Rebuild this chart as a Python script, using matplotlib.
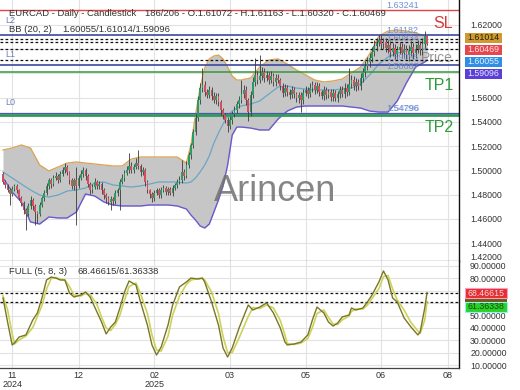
import numpy as np
import matplotlib
matplotlib.use('Agg')
import matplotlib.pyplot as plt
from matplotlib.patches import Rectangle

plt.rcParams['font.family'] = ['Liberation Sans', 'DejaVu Sans']

# ---------------- data ----------------
first_open = 1.4971
closes = [
    1.4905, 1.4880, 1.4839, 1.4806, 1.4847, 1.4872, 1.4839, 1.4773, 1.4731, 1.4674,
    1.4641, 1.4707, 1.4756, 1.4707, 1.4657, 1.4641, 1.4715, 1.4773, 1.4814, 1.4872,
    1.4921, 1.4888, 1.4938, 1.4954, 1.4921, 1.4971, 1.5004, 1.5028, 1.4987, 1.4921,
    1.4872, 1.4921, 1.4872, 1.4938, 1.4971, 1.5004, 1.4954, 1.4888, 1.4839, 1.4863,
    1.4905, 1.4872, 1.4888, 1.4839, 1.4797, 1.4773, 1.4740, 1.4764, 1.4748, 1.4814,
    1.4839, 1.4905, 1.4938, 1.4979, 1.5004, 1.5037, 1.5004, 1.5028, 1.5061, 1.5037,
    1.4987, 1.5004, 1.4905, 1.4839, 1.4806, 1.4773, 1.4814, 1.4839, 1.4797, 1.4839,
    1.4855, 1.4822, 1.4847, 1.4814, 1.4855, 1.4880, 1.4905, 1.4921, 1.4987, 1.4954,
    1.5045, 1.5127, 1.5210, 1.5317, 1.5433, 1.5581, 1.5680, 1.5705, 1.5647, 1.5622,
    1.5664, 1.5614, 1.5581, 1.5614, 1.5565, 1.5499, 1.5457, 1.5416, 1.5367, 1.5416,
    1.5466, 1.5499, 1.5548, 1.5581, 1.5631, 1.5664, 1.5581, 1.5482, 1.5622, 1.5730,
    1.5788, 1.5746, 1.5779, 1.5812, 1.5763, 1.5788, 1.5746, 1.5779, 1.5730, 1.5763,
    1.5746, 1.5697, 1.5639, 1.5680, 1.5647, 1.5622, 1.5664, 1.5631, 1.5598, 1.5622,
    1.5581, 1.5639, 1.5664, 1.5631, 1.5680, 1.5705, 1.5664, 1.5697, 1.5647, 1.5614,
    1.5664, 1.5622, 1.5647, 1.5606, 1.5639, 1.5598, 1.5631, 1.5664, 1.5631, 1.5680,
    1.5647, 1.5713, 1.5746, 1.5697, 1.5730, 1.5697, 1.5763, 1.5812, 1.5862, 1.5895,
    1.5928, 1.5977, 1.6027, 1.6060, 1.6076, 1.6043, 1.6060, 1.6010, 1.6035, 1.5977,
    1.6010, 1.5961, 1.5994, 1.6018, 1.5969, 1.6002, 1.5952, 1.5986, 1.6018, 1.5969,
    1.6002, 1.6035, 1.5994, 1.6043, 1.61072, 1.60469,
]
# wick extents beyond the body, in pips
wick_up = [
    15, 20, 12, 18, 25, 14, 20, 12, 18, 15,
    20, 25, 30, 15, 18, 12, 25, 20, 22, 28,
    20, 15, 25, 30, 18, 22, 28, 35, 15, 12,
    18, 20, 107, 25, 30, 22, 15, 18, 20, 25,
    30, 18, 22, 15, 20, 18, 15, 22, 18, 25,
    20, 28, 30, 25, 35, 107, 30, 25, 40, 108,
    20, 25, 15, 18, 12, 15, 22, 20, 18, 25,
    22, 15, 20, 18, 25, 20, 28, 30, 99, 25,
    30, 25, 20, 28, 35, 30, 40, 140, 30, 25,
    35, 25, 30, 28, 22, 18, 20, 15, 25, 30,
    25, 30, 28, 35, 115, 40, 30, 20, 35, 45,
    140, 30, 173, 40, 30, 35, 28, 40, 25, 30,
    35, 20, 25, 30, 28, 22, 30, 25, 20, 28,
    25, 30, 35, 28, 40, 30, 25, 35, 22, 20,
    30, 25, 28, 22, 30, 25, 28, 35, 30, 40,
    35, 132, 40, 30, 35, 28, 40, 35, 45, 40,
    45, 40, 50, 35, 45, 40, 35, 30, 40, 35,
    40, 30, 35, 45, 30, 40, 35, 45, 50, 35,
    40, 45, 35, 50, 40, 9,
]
wick_dn = [
    20, 25, 18, 91, 15, 20, 25, 18, 22, 30,
    132, 20, 25, 30, 106, 75, 20, 15, 22, 18,
    25, 30, 20, 18, 25, 20, 15, 22, 28, 30,
    25, 30, 321, 20, 18, 25, 30, 22, 35, 25,
    20, 28, 25, 30, 35, 40, 25, 66, 30, 28,
    25, 165, 20, 25, 18, 22, 28, 25, 20, 22,
    30, 25, 35, 28, 30, 33, 25, 20, 28, 25,
    20, 25, 22, 18, 25, 20, 22, 18, 25, 30,
    20, 25, 30, 22, 28, 25, 30, 35, 30, 28,
    25, 30, 28, 35, 30, 40, 30, 28, 50, 25,
    30, 25, 28, 30, 25, 30, 40, 76, 30, 25,
    30, 35, 28, 30, 35, 25, 30, 28, 35, 30,
    28, 35, 30, 25, 35, 30, 28, 35, 30, 40,
    101, 30, 25, 35, 28, 30, 35, 25, 30, 28,
    35, 30, 28, 35, 30, 28, 35, 30, 25, 35,
    30, 28, 35, 30, 40, 35, 30, 35, 40, 35,
    40, 35, 30, 40, 35, 45, 40, 35, 45, 40,
    35, 45, 40, 35, 45, 40, 35, 45, 40, 50,
    40, 35, 45, 40, 35, 15,
]

# Bollinger band (20, 2) values read at these bar indices
bb_idx = [0, 4, 8, 12, 16, 20, 24, 28, 32, 36, 40, 44, 48, 52, 56, 60, 64, 68, 72, 76, 80,
          82, 84, 86, 88, 90, 92, 94, 96, 98, 100, 102, 104,
          108, 112, 116, 120, 124, 128, 132, 136, 140, 144, 148, 152, 156, 160, 164, 168,
          172, 176, 180, 184, 185]
bb_upper = [1.5169, 1.5185, 1.5210, 1.5185, 1.5045, 1.4996, 1.5028, 1.5061, 1.5070, 1.5061,
            1.5053, 1.5045, 1.5037, 1.5037, 1.5094, 1.5111, 1.5111, 1.5111, 1.5111, 1.5111, 1.5061,
            1.5210, 1.5457, 1.5680, 1.5845, 1.5920, 1.5944, 1.5952, 1.5920, 1.5853, 1.5779, 1.5746, 1.5746,
            1.5763, 1.5853, 1.5911, 1.5920, 1.5878, 1.5829, 1.5788, 1.5746, 1.5730, 1.5738, 1.5754,
            1.5804, 1.5853, 1.5961, 1.6109, 1.6150, 1.6159, 1.6150, 1.6134, 1.6109, 1.61014]
bb_mid = [1.4987, 1.4938, 1.4888, 1.4839, 1.4797, 1.4781, 1.4797, 1.4830, 1.4839, 1.4855,
          1.4896, 1.4905, 1.4880, 1.4872, 1.4863, 1.4872, 1.4888, 1.4905, 1.4905, 1.4905, 1.4896,
          1.4905, 1.4938, 1.4987, 1.5045, 1.5119, 1.5226, 1.5309, 1.5383, 1.5449, 1.5490, 1.5515, 1.5532,
          1.5548, 1.5573, 1.5631, 1.5688, 1.5697, 1.5680, 1.5672, 1.5664, 1.5664, 1.5664, 1.5672,
          1.5680, 1.5713, 1.5788, 1.5878, 1.5936, 1.5969, 1.5986, 1.5994, 1.6002, 1.60055]
bb_lower = [1.4938, 1.4822, 1.4740, 1.4575, 1.4558, 1.4616, 1.4608, 1.4608, 1.4657, 1.4806,
            1.4789, 1.4740, 1.4715, 1.4707, 1.4707, 1.4707, 1.4715, 1.4715, 1.4715, 1.4707, 1.4682,
            1.4632, 1.4591, 1.4542, 1.4525, 1.4558, 1.4657, 1.4756, 1.4872, 1.5045, 1.5292, 1.5358, 1.5358,
            1.5350, 1.5334, 1.5334, 1.5424, 1.5490, 1.5523, 1.5532, 1.5532, 1.5532, 1.5532, 1.5532,
            1.5523, 1.5515, 1.5490, 1.5482, 1.5482, 1.5573, 1.5722, 1.5853, 1.5895, 1.59096]

# Full stochastic (5, 8, 3) values read at these bar indices
st_idx = [0, 2, 4, 5, 7, 10, 13, 15, 17, 19, 21, 23, 25, 27, 29, 31, 34, 36, 38, 41,
          43, 45, 47, 49, 51, 53, 55, 58, 60, 63, 65, 67, 69, 72, 74, 77, 80, 82, 85, 87,
          88, 91, 94, 96, 98, 100, 103, 107, 109, 112, 115, 118, 121, 123, 124, 127, 130, 133, 135, 137,
          140, 142, 144, 146, 148, 151, 152, 154, 157, 159, 161, 164, 166, 168, 170, 172, 175, 178, 181, 182,
          184, 185]
st_k = [64.2, 44.8, 26.3, 27.9, 32.7, 34.4, 46.5, 52.1, 64.2, 78.7,
        81.1, 80.3, 78.7, 78.7, 68.2, 65.0, 66.6, 69.0, 65.0, 52.9,
        44.8, 35.2, 40.8, 44.8, 56.1, 69.0, 77.9, 74.7, 61.0, 42.4,
        26.3, 18.2, 24.7, 42.4, 58.5, 73.1, 77.1, 80.3, 79.5, 80.3,
        77.1, 61.0, 42.4, 23.9, 16.6, 23.9, 40.0, 58.5, 54.5, 56.9,
        60.2, 52.1, 40.0, 28.7, 26.3, 27.1, 28.7, 34.4, 46.5, 56.9,
        52.1, 44.8, 41.6, 44.0, 48.9, 50.5, 56.1, 54.5, 56.1, 61.0,
        66.6, 77.1, 86.0, 78.7, 64.2, 61.0, 48.1, 40.8, 34.4, 36.8,
        56.1, 68.46615]
st_d = [66.0, 54.5, 35.5, 27.1, 30.3, 33.5, 40.4, 49.3, 58.1, 71.4,
        79.9, 80.7, 79.5, 78.7, 73.4, 66.6, 65.8, 67.8, 67.0, 59.0,
        48.8, 40.0, 38.0, 42.8, 50.4, 62.5, 73.4, 76.3, 67.8, 51.7,
        34.4, 22.2, 21.4, 33.5, 50.4, 65.8, 75.1, 78.7, 79.9, 79.9,
        78.7, 69.0, 51.7, 33.1, 20.2, 20.2, 32.0, 49.3, 56.5, 55.7,
        58.5, 56.1, 46.0, 34.4, 27.5, 26.7, 27.9, 31.5, 40.4, 51.7,
        54.5, 48.5, 43.2, 42.8, 46.5, 49.7, 53.3, 55.3, 55.3, 58.5,
        63.8, 71.8, 81.5, 82.3, 71.4, 62.6, 54.5, 44.4, 37.6, 35.6,
        46.5, 61.36338]

sl_level = 1.63241
l2_level = 1.61182
l1_level = 1.58687
tp1_level = 1.58120
l0_level = 1.54715
tp2_level = 1.54535
dash_levels = [1.6085, 1.6062, 1.5998, 1.5909]
stoch_dash = [68.46615, 61.36338]

x_tick_pos = [4, 33, 66, 99, 132, 165, 194]
x_tick_lab = ['11\n2024', '12', '02\n2025', '03', '05', '06', '08']
price_ticks = [1.44, 1.46, 1.48, 1.50, 1.52, 1.54, 1.56, 1.58, 1.60, 1.62]
price_hidden = [1.58, 1.60]      # covered by the value boxes in the reference
stoch_ticks = [10, 20, 30, 40, 50, 60, 70, 80, 90]
stoch_hidden = [60, 70]

# ---------------- layout ----------------
W, H = 520, 390
fig = plt.figure(figsize=(W / 100, H / 100), dpi=100)
fig.patch.set_facecolor('white')


def fx(x):
    return x / W


def fy(y):
    return 1 - y / H


ax = fig.add_axes([0, fy(261), fx(459), fy(0) - fy(261)])
ax2 = fig.add_axes([0, fy(368), fx(459), fy(261) - fy(368)], sharex=ax)

XMIN, XMAX = -1.31, 198.95
ax.set_xlim(XMIN, XMAX)
ax.set_ylim(1.4253, 1.640625)
ax2.set_ylim(7.74, 94.03)

grid_c = '#e2e2e2'
txt_c = '#333333'
for a in (ax, ax2):
    a.set_axisbelow(True)
    a.set_xticks(x_tick_pos)
    a.grid(True, color=grid_c, lw=0.8)
    a.yaxis.tick_right()
    a.tick_params(axis='y', length=0, pad=8, labelsize=6.3, labelcolor=txt_c)
    a.tick_params(axis='x', length=0, pad=2, labelsize=6.5, labelcolor=txt_c)
    a.spines['left'].set_visible(False)
    a.spines['top'].set_visible(False)
    a.spines['right'].set_color('#111111')
    a.spines['right'].set_linewidth(1.0)
    a.spines['bottom'].set_color('#444444')
    a.spines['bottom'].set_linewidth(0.9)

ax.set_yticks(price_ticks)
ax.set_yticklabels(['' if any(abs(v - h) < 1e-9 for h in price_hidden) else '%.5f' % v
                    for v in price_ticks])
ax.tick_params(axis='x', labelbottom=False)
ax2.set_yticks(stoch_ticks)
ax2.set_yticklabels(['' if v in stoch_hidden else '%.5f' % v for v in stoch_ticks])
ax2.set_xticklabels(x_tick_lab)
for lab in ax2.get_xticklabels():
    lab.set_linespacing(1.0)

# ---------------- bollinger band ----------------
ax.fill_between(bb_idx, bb_lower, bb_upper, color='#c6c6c6', lw=0, zorder=1.2)
ax.plot(bb_idx, bb_upper, color='#d9a75c', lw=1.0, zorder=1.4)
ax.plot(bb_idx, bb_lower, color='#6a5ad0', lw=1.0, zorder=1.4)
ax.plot(bb_idx, bb_mid, color='#6aa6c8', lw=0.9, zorder=1.4)

# watermark
ax.text(275 / 459 * (XMAX - XMIN) + XMIN, 1.640625 - 0.000825 * 192, 'Arincen',
        fontsize=26, color='#707070', alpha=0.85, ha='center', va='center', zorder=1.6)
ax.text(437 / 459 * (XMAX - XMIN) + XMIN, 1.640625 - 0.000825 * 58, 'Price',
        fontsize=10, color='#8c8c8c', alpha=0.9, ha='center', va='center', zorder=1.6)

# ---------------- level lines ----------------
ax.axhline(sl_level, color='#e04444', lw=1.0, zorder=2)
ax.axhline(l2_level, color='#3b4a9e', lw=1.2, zorder=2)
for lv in dash_levels:
    ax.axhline(lv, color='#111111', lw=0.9, ls=(0, (2.2, 1.8)), zorder=2)
ax.axhline(l1_level, color='#3b4a9e', lw=1.2, zorder=2)
ax.axhline(tp1_level, color='#2f9a3c', lw=1.1, zorder=2)
ax.axhline(tp2_level, color='#2f9a5a', lw=2.0, zorder=2)
ax.axhline(l0_level, color='#4b5ab0', lw=0.9, zorder=2.1)

# ---------------- candles ----------------
n = len(closes)
idx = np.arange(n)
cl = np.array(closes)
op = np.array([first_open] + closes[:-1])
hi = np.maximum(op, cl) + np.array(wick_up) * 1e-4
lo = np.minimum(op, cl) - np.array(wick_dn) * 1e-4
colors = np.where(cl >= op, '#2f9a62', '#d24f60')
ax.vlines(idx, lo, hi, color='#3a3a3a', lw=0.6, zorder=3)
ax.bar(idx, np.maximum(np.abs(cl - op), 0.0003), bottom=np.minimum(op, cl),
       width=0.75, color=colors, lw=0, zorder=4)

# line value labels
lab_x = (386 - 3) / 2.292
lab_c = '#6d8fd6'
ax.text(lab_x, sl_level, '1.63241', fontsize=6.5, color=lab_c, va='bottom', zorder=5)
ax.text(lab_x, l2_level, '1.61182', fontsize=6.5, color=lab_c, va='bottom', zorder=5)
ax.text(lab_x, dash_levels[0], '1.60834', fontsize=6.5, color='#6a78b8', alpha=0.8, va='center', zorder=5)
ax.text(lab_x, 1.5928, '1.59095', fontsize=6.5, color=lab_c, alpha=0.8, va='center', zorder=5)
ax.text(lab_x, 1.5857, '1.58687', fontsize=6.5, color=lab_c, va='center', zorder=5)
ax.text(lab_x, l0_level, '1.54796', fontsize=6.5, color=lab_c, va='bottom', zorder=5)
ax.text(lab_x + 0.4, l0_level + 0.0002, '1.54296', fontsize=6.5, color=lab_c, alpha=0.6, va='bottom', zorder=5)

for name, lv, off in (('L2', l2_level, 6.8), ('L1', l1_level, 4.5), ('L0', l0_level, 4.5)):
    ax.annotate(name, (0.8, lv), xytext=(0, off), textcoords='offset points',
                fontsize=6.5, color='#6f7fbf', va='bottom', ha='left', zorder=5)

# ---------------- stochastic ----------------
ax2.plot(st_idx, st_d, color='#ccd35a', lw=1.2, zorder=3)
ax2.plot(st_idx, st_k, color='#7a7628', lw=1.0, zorder=3.1)
for lv in stoch_dash:
    ax2.axhline(lv, color='#111111', lw=0.9, ls=(0, (2.2, 1.8)), zorder=2)

# ---------------- figure texts ----------------
fig.text(fx(9), fy(13), 'EURCAD - Daily - Candlestick', fontsize=6.8, color=txt_c, va='center')
fig.text(fx(145), fy(13), '186/206 - O.1.61072 - H.1.61163 - L.1.60320 - C.1.60469',
         fontsize=6.8, color=txt_c, va='center')
fig.text(fx(9), fy(30), 'BB (20, 2)', fontsize=6.8, color=txt_c, va='center')
fig.text(fx(62), fy(30), '1.60055/1.61014/1.59096', fontsize=6.8, color=txt_c, va='center')
fig.text(fx(9), fy(272), 'FULL (5, 8, 3)', fontsize=6.8, color=txt_c, va='center')
fig.text(fx(77), fy(272), '68.46615/61.36338', fontsize=6.8, color=txt_c, va='center')

fig.text(fx(443), fy(23), 'SL', fontsize=11.5, color='#d33a3a', ha='center', va='center')
fig.text(fx(439), fy(85), 'TP1', fontsize=11.5, color='#2f9a3c', ha='center', va='center')
fig.text(fx(439), fy(128), 'TP2', fontsize=11.5, color='#2f9a3c', ha='center', va='center')

fig.text(fx(470), fy(257), '1.42000', fontsize=6.3, color=txt_c, va='center')

# right-side value boxes
boxes = [
    (37.8, '1.61014', '#cf9a32', '#2a2000'),
    (50.0, '1.60469', '#e6474f', '#ffe4e4'),
    (62.0, '1.60055', '#2f8fe6', '#e6f2ff'),
    (74.0, '1.59096', '#5a40d6', '#ece6ff'),
]
for yc, txt, bg, fg in boxes:
    fig.patches.append(Rectangle((fx(465), fy(yc + 4.7)), fx(37), 9.4 / H,
                                 transform=fig.transFigure, facecolor=bg, edgecolor='none', zorder=2))
    fig.text(fx(467), fy(yc), txt, fontsize=6.3, color=fg, va='center', ha='left', zorder=3)

fig.patches.append(Rectangle((fx(465), fy(302)), fx(42), 5 / H, transform=fig.transFigure,
                             facecolor='#6b5a18', edgecolor='none', zorder=2))
fig.patches.append(Rectangle((fx(465), fy(298)), fx(42), 10 / H, transform=fig.transFigure,
                             facecolor='#e2302e', edgecolor='#ff9acb', lw=0.8, zorder=2.1))
fig.text(fx(467), fy(293), '68.46615', fontsize=6.3, color='#ffd6e0', va='center', zorder=3)
fig.patches.append(Rectangle((fx(465), fy(311.7)), fx(42), 10 / H, transform=fig.transFigure,
                             facecolor='#28d22a', edgecolor='#9af0f0', lw=0.8, zorder=2.1))
fig.text(fx(467), fy(306.7), '61.36338', fontsize=6.3, color='#1d4a10', va='center', zorder=3)

fig.savefig('out.png', dpi=100, facecolor='white')
